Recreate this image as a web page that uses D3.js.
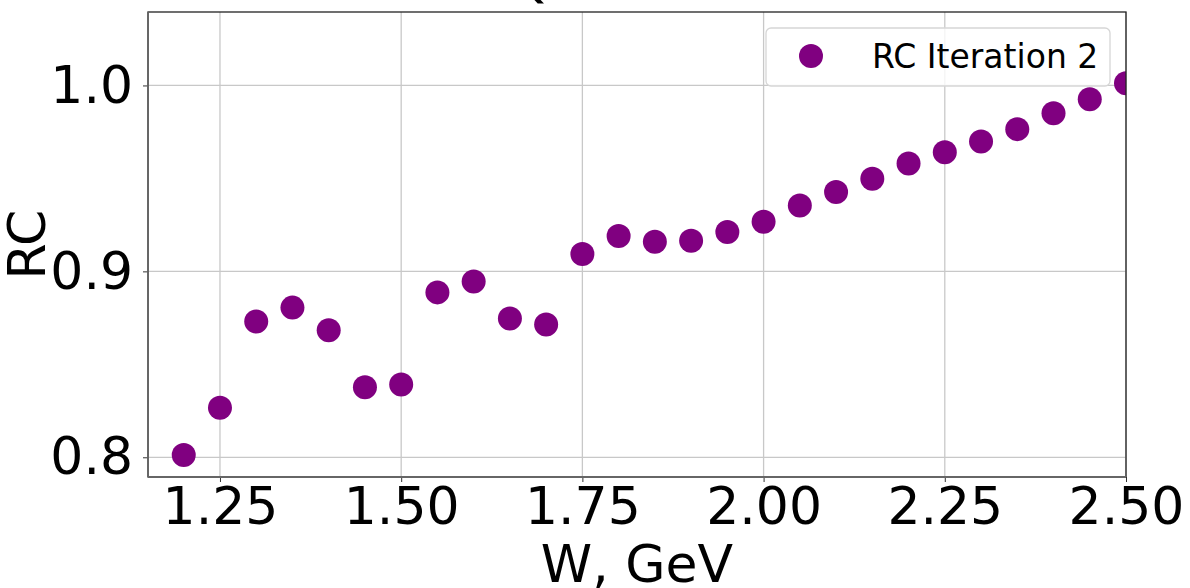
<!DOCTYPE html>
<html>
<head>
<meta charset="utf-8">
<script src="https://cdn.jsdelivr.net/npm/d3@7"></script>
<style>
  body { margin: 0; background: #fff; }
  svg { font-family: "DejaVu Sans", sans-serif; }
</style>
</head>
<body>
<svg width="1190" height="588"></svg>
<script>
// W values (GeV) and radiative correction values
const wValues = [1.20, 1.25, 1.30, 1.35, 1.40, 1.45, 1.50, 1.55, 1.60, 1.65, 1.70,
                 1.75, 1.80, 1.85, 1.90, 1.95, 2.00, 2.05, 2.10, 2.15, 2.20,
                 2.25, 2.30, 2.35, 2.40, 2.45, 2.50]
const rcValues = [0.8012, 0.8266, 0.8730, 0.8805, 0.8683, 0.8377, 0.8391, 0.8887, 0.8945, 0.8746, 0.8714,
                  0.9093, 0.9190, 0.9159, 0.9165, 0.9212, 0.9267, 0.9354, 0.9427, 0.9498, 0.9580,
                  0.9641, 0.9698, 0.9765, 0.9851, 0.9926, 1.0012]
const xTicks = [1.25, 1.50, 1.75, 2.00, 2.25, 2.50]
const yTicks = [0.8, 0.9, 1.0]
const seriesName = 'RC Iteration 2'

const purple = '#800080'
const fontSize = 52
const margin = {top: 12, left: 148, right: 64, bottom: 111}
const width = 1190 - margin.left - margin.right
const height = 588 - margin.top - margin.bottom

const data = wValues.map((w, i) => ({w: w, rc: rcValues[i]}))

const svg = d3.select('svg')
const g = svg.append('g').attr('transform', `translate(${margin.left},${margin.top})`)

const x = d3.scaleLinear([1.1507, 2.5], [0, width])
const y = d3.scaleLinear([0.7894, 1.0395], [height, 0])

// grid
g.append('g').selectAll('line').data(xTicks).enter()
    .append('line')
    .attr('x1', d => x(d)).attr('x2', d => x(d))
    .attr('y1', 0).attr('y2', height)
    .attr('stroke', '#c8c8c8').attr('stroke-width', 1.3)
g.append('g').selectAll('line').data(yTicks).enter()
    .append('line')
    .attr('x1', 0).attr('x2', width)
    .attr('y1', d => y(d)).attr('y2', d => y(d))
    .attr('stroke', '#c8c8c8').attr('stroke-width', 1.3)

// points, clipped to the axes box
svg.append('defs').append('clipPath').attr('id', 'clip')
    .append('rect').attr('width', width).attr('height', height)

g.append('g').attr('clip-path', 'url(#clip)')
    .selectAll('circle').data(data).enter()
    .append('circle')
        .attr('cx', d => x(d.w))
        .attr('cy', d => y(d.rc))
        .attr('r', 12)
        .attr('fill', purple)

// axes
const xAxis = d3.axisBottom(x).tickValues(xTicks).tickFormat(d3.format('.2f')).tickSize(5).tickPadding(5)
const yAxis = d3.axisLeft(y).tickValues(yTicks).tickFormat(d3.format('.1f')).tickSize(5).tickPadding(10)

g.append('g').attr('transform', `translate(0,${height})`).call(xAxis)
    .call(a => a.select('.domain').remove())
    .call(a => a.selectAll('.tick line').attr('stroke', '#333'))
    .call(a => a.selectAll('text').attr('font-size', fontSize).attr('fill', '#000')
        .attr('font-family', '"DejaVu Sans", sans-serif'))

g.append('g').call(yAxis)
    .call(a => a.select('.domain').remove())
    .call(a => a.selectAll('.tick line').attr('stroke', '#333'))
    .call(a => a.selectAll('text').attr('font-size', fontSize).attr('fill', '#000')
        .attr('font-family', '"DejaVu Sans", sans-serif'))

// spines
g.append('rect').attr('width', width).attr('height', height)
    .attr('fill', 'none').attr('stroke', '#222').attr('stroke-width', 1.3)
g.append('line').attr('x1', 0).attr('x2', 0).attr('y1', 0).attr('y2', height)
    .attr('stroke', '#666').attr('stroke-width', 1.8)
g.append('line').attr('x1', 0).attr('x2', width).attr('y1', height).attr('y2', height)
    .attr('stroke', '#666').attr('stroke-width', 1.8)

// axis labels
svg.append('text')
    .attr('x', margin.left + width / 2).attr('y', 582)
    .attr('text-anchor', 'middle').attr('font-size', fontSize)
    .text('W, GeV')

svg.append('text')
    .attr('transform', `translate(45,${margin.top + height / 2}) rotate(-90)`)
    .attr('text-anchor', 'middle').attr('font-size', fontSize)
    .text('RC')

// title, mostly above the visible area
svg.append('text')
    .attr('x', 530).attr('y', -3)
    .attr('text-anchor', 'middle').attr('font-size', fontSize)
    .text('Q')

// legend
const legend = svg.append('g').attr('transform', 'translate(766,28)')
legend.append('rect')
    .attr('width', 344).attr('height', 58).attr('rx', 5)
    .attr('fill', 'white').attr('fill-opacity', 0.8)
    .attr('stroke', '#d6d6d6').attr('stroke-width', 1.3)
legend.append('circle')
    .attr('cx', 45).attr('cy', 28).attr('r', 12).attr('fill', purple)
legend.append('text')
    .attr('x', 106).attr('y', 40).attr('font-size', 33)
    .text(seriesName)
</script>
</body>
</html>
